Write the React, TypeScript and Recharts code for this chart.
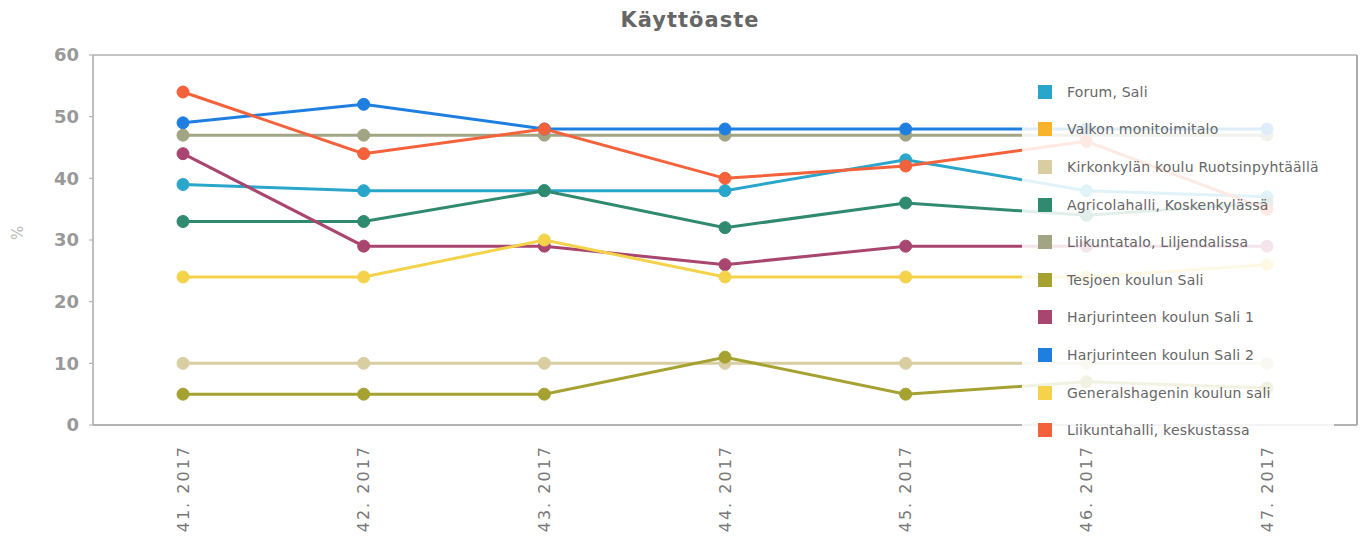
import React from "react";
import { LineChart, Line, XAxis, YAxis, ReferenceLine } from "recharts";

const weeks = ["41. 2017", "42. 2017", "43. 2017", "44. 2017", "45. 2017", "46. 2017", "47. 2017"];
const yTicks = [0, 10, 20, 30, 40, 50, 60];

const forum = [39, 38, 38, 38, 43, 38, 37];
const valko: (number | null)[] = [null, null, null, null, null, null, null];
const kirkonkyla = [10, 10, 10, 10, 10, 10, 10];
const agricola = [33, 33, 38, 32, 36, 34, 36];
const liljendal = [47, 47, 47, 47, 47, 47, 47];
const tesjoki = [5, 5, 5, 11, 5, 7, 6];
const harjurinne1 = [44, 29, 29, 26, 29, 29, 29];
const harjurinne2 = [49, 52, 48, 48, 48, 48, 48];
const generalshagen = [24, 24, 30, 24, 24, 24, 26];
const keskusta = [54, 44, 48, 40, 42, 46, 35];

const series = [
  { key: "forum", name: "Forum, Sali", color: "#2ba6cb", values: forum },
  { key: "valko", name: "Valkon monitoimitalo", color: "#f7b32b", values: valko },
  { key: "kirkonkyla", name: "Kirkonkylän koulu Ruotsinpyhtäällä", color: "#d9cda2", values: kirkonkyla },
  { key: "agricola", name: "Agricolahalli, Koskenkylässä", color: "#2f8a6f", values: agricola },
  { key: "liljendal", name: "Liikuntatalo, Liljendalissa", color: "#a2a583", values: liljendal },
  { key: "tesjoki", name: "Tesjoen koulun Sali", color: "#a5a232", values: tesjoki },
  { key: "harjurinne1", name: "Harjurinteen koulun Sali 1", color: "#a8466f", values: harjurinne1 },
  { key: "harjurinne2", name: "Harjurinteen koulun Sali 2", color: "#1f7fe0", values: harjurinne2 },
  { key: "generalshagen", name: "Generalshagenin koulun sali", color: "#f4d34a", values: generalshagen },
  { key: "keskusta", name: "Liikuntahalli, keskustassa", color: "#f4623c", values: keskusta },
];

const data = weeks.map((w, i) => {
  const row: Record<string, string | number | null> = { week: w };
  series.forEach((s) => {
    row[s.key] = s.values[i];
  });
  return row;
});

const WeekTick = (props: any) => {
  const { x, y, payload } = props;
  return (
    <text
      x={x}
      y={y + 12}
      transform={`rotate(-90, ${x}, ${y + 12})`}
      textAnchor="end"
      dy="0.35em"
      fontSize={16}
      letterSpacing={2}
      fill="#777"
      fontFamily="DejaVu Sans"
    >
      {payload.value}
    </text>
  );
};

// legend sits on top of the right end of the plot, like in the original
const LegendBox = () => (
  <div
    style={{
      position: "absolute",
      left: 1022,
      top: 72,
      width: 312,
      height: 375,
      background: "rgba(255,255,255,0.86)",
      paddingTop: 1,
      boxSizing: "border-box",
    }}
  >
    {series.map((s) => (
      <div key={s.key} style={{ display: "flex", alignItems: "center", height: 37.6 }}>
        <div
          style={{
            width: 14,
            height: 14,
            background: s.color,
            marginLeft: 16,
            marginRight: 15,
          }}
        />
        <span
          style={{
            fontFamily: "DejaVu Sans",
            fontSize: 14,
            letterSpacing: 0.2,
            color: "#666",
            whiteSpace: "nowrap",
          }}
        >
          {s.name}
        </span>
      </div>
    ))}
  </div>
);

export default function App() {
  return (
    <div style={{ position: "absolute", left: 0, top: 0, width: 1364, height: 539, background: "#fff" }}>
      <LineChart
        width={1364}
        height={539}
        data={data}
        margin={{ top: 55, right: 0, bottom: 0, left: 0 }}
      >
        <XAxis
          dataKey="week"
          height={114}
          padding={{ left: 90, right: 90 }}
          interval={0}
          tick={<WeekTick />}
          tickLine={false}
          axisLine={{ stroke: "#b3b3b3", strokeWidth: 2 }}
        />
        <YAxis
          width={93}
          domain={[0, 60]}
          ticks={yTicks}
          tickSize={4}
          tickMargin={10}
          tick={{ fontSize: 18, fontWeight: "bold", fill: "#999", fontFamily: "DejaVu Sans" }}
          axisLine={{ stroke: "#aaa", strokeWidth: 1.5 }}
          tickLine={{ stroke: "#aaa" }}
          label={{
            value: "%",
            angle: -90,
            position: "insideLeft",
            offset: 18,
            fill: "#bbb",
            fontSize: 15,
            fontFamily: "DejaVu Sans",
          }}
        />
        <YAxis
          yAxisId="right"
          orientation="right"
          width={7}
          domain={[0, 60]}
          tick={false}
          tickLine={false}
          axisLine={{ stroke: "#aaa", strokeWidth: 2 }}
        />
        <ReferenceLine y={60} stroke="#c4c4c4" strokeWidth={2} />
        {series.map((s) => (
          <Line
            key={s.key}
            dataKey={s.key}
            name={s.name}
            stroke={s.color}
            strokeWidth={3}
            dot={{ r: 6, fill: s.color, stroke: s.color, strokeWidth: 1 }}
            activeDot={false}
            isAnimationActive={false}
          />
        ))}
      </LineChart>
      <LegendBox />
      <div
        style={{
          position: "absolute",
          left: 0,
          top: 8,
          width: 1380,
          textAlign: "center",
          fontFamily: "DejaVu Sans",
          fontWeight: "bold",
          fontSize: 21,
          letterSpacing: 1,
          color: "#666",
        }}
      >
        Käyttöaste
      </div>
    </div>
  );
}
